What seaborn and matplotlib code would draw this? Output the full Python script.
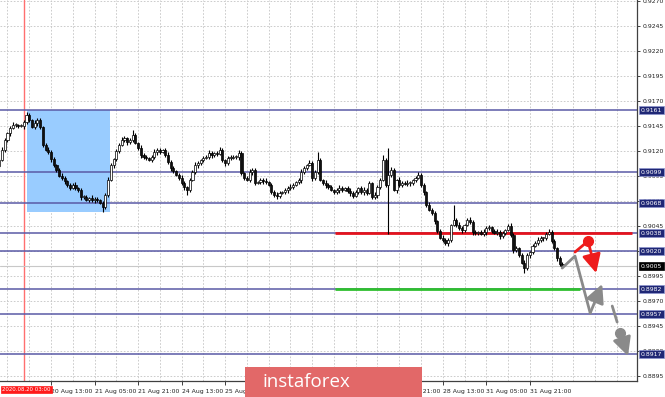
import numpy as np
import pandas as pd
import matplotlib
matplotlib.use("Agg")
import matplotlib.pyplot as plt
import matplotlib.transforms as mtransforms
from matplotlib.patches import Rectangle
import seaborn as sns

# ---------------- data ----------------
bar_index_start = -19          # bar 0 = 20 Aug 13:00 (H1 bars)
first_open = 0.9105
closes = [
    0.9111, 0.9121, 0.9131, 0.9138, 0.9143, 0.9146, 0.9146, 0.9145, 0.9145, 0.9149, 0.9156, 0.9151, 0.9144, 0.9148, 0.9151, 0.9144,
    0.9126, 0.9121, 0.9119, 0.9112, 0.9106, 0.9101, 0.9095, 0.9093, 0.9090, 0.9086, 0.9083, 0.9086, 0.9083, 0.9081, 0.9074, 0.9074,
    0.9071, 0.9073, 0.9071, 0.9072, 0.9071, 0.9068, 0.9064, 0.9076, 0.9091, 0.9106, 0.9112, 0.9120, 0.9126, 0.9131, 0.9133, 0.9129,
    0.9131, 0.9136, 0.9128, 0.9123, 0.9116, 0.9114, 0.9113, 0.9111, 0.9114, 0.9119, 0.9121, 0.9119, 0.9121, 0.9116, 0.9109, 0.9103,
    0.9100, 0.9096, 0.9093, 0.9088, 0.9084, 0.9081, 0.9091, 0.9099, 0.9106, 0.9108, 0.9111, 0.9113, 0.9114, 0.9118, 0.9116, 0.9118,
    0.9117, 0.9121, 0.9111, 0.9108, 0.9113, 0.9113, 0.9114, 0.9114, 0.9118, 0.9098, 0.9093, 0.9091, 0.9099, 0.9101, 0.9088, 0.9089,
    0.9091, 0.9090, 0.9089, 0.9086, 0.9079, 0.9076, 0.9075, 0.9078, 0.9079, 0.9081, 0.9083, 0.9084, 0.9086, 0.9089, 0.9091, 0.9099,
    0.9103, 0.9106, 0.9108, 0.9093, 0.9099, 0.9111, 0.9091, 0.9088, 0.9086, 0.9084, 0.9081, 0.9079, 0.9081, 0.9083, 0.9081, 0.9083,
    0.9080, 0.9078, 0.9075, 0.9079, 0.9083, 0.9079, 0.9081, 0.9078, 0.9088, 0.9074, 0.9076, 0.9084, 0.9091, 0.9111, 0.9086, 0.9096,
    0.9101, 0.9081, 0.9091, 0.9086, 0.9088, 0.9087, 0.9088, 0.9088, 0.9091, 0.9093, 0.9096, 0.9086, 0.9079, 0.9066, 0.9061, 0.9058,
    0.9050, 0.9040, 0.9033, 0.9031, 0.9028, 0.9031, 0.9046, 0.9051, 0.9046, 0.9043, 0.9041, 0.9046, 0.9051, 0.9049, 0.9039, 0.9038,
    0.9039, 0.9037, 0.9039, 0.9043, 0.9044, 0.9040, 0.9038, 0.9039, 0.9035, 0.9038, 0.9041, 0.9045, 0.9036, 0.9021, 0.9023, 0.9016,
    0.9008, 0.9003, 0.9016, 0.9019, 0.9025, 0.9028, 0.9031, 0.9033, 0.9033, 0.9037, 0.9039, 0.9030, 0.9023, 0.9013, 0.9007, 0.9005,
]
upper_wick_pips = [
    2, 3, 2, 1, 2, 3, 2, 1, 2, 2, 3, 2, 1, 3, 2, 2,
    1, 2, 3, 2, 2, 1, 2, 3, 2, 1, 2, 2, 3, 1, 2, 2,
    2, 1, 3, 2, 2, 1, 2, 2, 3, 2, 1, 2, 2, 3, 2, 1,
    2, 5, 2, 1, 3, 2, 2, 1, 2, 3, 2, 2, 1, 2, 3, 2,
    2, 1, 2, 3, 2, 1, 2, 2, 3, 2, 1, 2, 2, 3, 2, 1,
    2, 3, 2, 1, 2, 3, 2, 2, 3, 2, 1, 2, 3, 2, 2, 1,
    2, 2, 3, 1, 2, 2, 3, 2, 1, 2, 2, 3, 2, 1, 2, 3,
    2, 1, 3, 2, 2, 8, 2, 1, 3, 2, 2, 1, 2, 3, 2, 1,
    2, 3, 2, 2, 1, 2, 3, 2, 2, 1, 3, 2, 2, 5, 2, 27,
    3, 2, 1, 3, 2, 2, 3, 2, 1, 2, 3, 2, 2, 1, 3, 2,
    2, 1, 2, 3, 2, 2, 1, 15, 2, 3, 2, 1, 2, 3, 2, 2,
    1, 2, 3, 2, 2, 1, 2, 3, 2, 2, 1, 2, 3, 2, 2, 1,
    2, 3, 2, 1, 2, 2, 3, 2, 1, 2, 3, 2, 2, 1, 2, 2,
]
lower_wick_pips = [
    2, 1, 2, 2, 3, 1, 2, 2, 1, 3, 2, 2, 1, 2, 3, 2,
    2, 1, 2, 3, 2, 2, 1, 2, 3, 2, 2, 1, 2, 2, 3, 2,
    1, 2, 2, 3, 2, 1, 5, 2, 2, 1, 3, 2, 2, 1, 2, 3,
    2, 2, 1, 2, 3, 2, 2, 1, 2, 2, 3, 2, 1, 2, 2, 3,
    2, 1, 2, 2, 3, 5, 2, 1, 2, 3, 2, 2, 1, 2, 3, 2,
    2, 1, 2, 3, 2, 2, 1, 2, 3, 2, 2, 1, 2, 3, 2, 1,
    2, 3, 2, 1, 2, 2, 3, 2, 1, 2, 3, 2, 2, 1, 2, 3,
    2, 2, 1, 3, 2, 2, 1, 2, 3, 2, 1, 2, 2, 3, 2, 1,
    2, 3, 2, 1, 2, 2, 3, 2, 1, 2, 2, 3, 2, 1, 2, 49,
    2, 1, 3, 2, 2, 1, 2, 3, 2, 2, 1, 2, 3, 2, 1, 2,
    3, 2, 1, 2, 2, 3, 2, 1, 2, 2, 3, 2, 1, 2, 3, 2,
    2, 1, 2, 3, 2, 2, 1, 2, 3, 2, 2, 1, 2, 3, 2, 2,
    1, 5, 2, 3, 2, 1, 2, 2, 3, 2, 1, 2, 2, 3, 2, 2,
]

level_prices = [0.9161, 0.9099, 0.9068, 0.9038, 0.9020, 0.8982, 0.8957, 0.8917]
level_labels = ["0.9161", "0.9099", "0.9068", "0.9038", "0.9020", "0.8982", "0.8957", "0.8917"]
bid_price = 0.9005
bid_label = "0.9005"

resistance_price = 0.9038
resistance_bars = [104.4, 213.6]
support_price = 0.8982
support_bars = [104.4, 194.5]

zone_bars = [-8.8, 21.7]
zone_prices = [0.9059, 0.9161]

marker_bar = -10
marker_label = "2020.08.20 03:00"

xtick_bars = [0, 16, 32, 48, 64, 80, 96, 112, 128, 144, 160, 176]
xtick_labels = ["20 Aug 13:00", "21 Aug 05:00", "21 Aug 21:00", "24 Aug 13:00",
                "25 Aug 05:00", "25 Aug 21:00", "26 Aug 13:00", "27 Aug 05:00",
                "27 Aug 21:00", "28 Aug 13:00", "31 Aug 05:00", "31 Aug 21:00"]
xgrid_bars = [-16, -8, 0, 8, 16, 24, 32, 40, 48, 56, 64, 72, 80, 88, 96, 104, 112,
              120, 128, 136, 144, 152, 160, 168, 176, 184, 192, 200, 208]
ytick_values = [0.9270, 0.9245, 0.9220, 0.9195, 0.9170, 0.9145, 0.9120, 0.9095,
                0.9070, 0.9045, 0.9020, 0.8995, 0.8970, 0.8945, 0.8920, 0.8895]

red_path_bars = [192.6, 197.4, 200.4]
red_path_prices = [0.9019, 0.9030, 0.8998]
gray_path_bars = [187.9, 192.6, 198.2, 202.6]
gray_path_prices = [0.9003, 0.9015, 0.8958, 0.8987]
gray_dash_bars = [206.3, 208.1]
gray_dash_prices = [0.8965, 0.8949]
gray_dot_bars = [209.2, 212.1]
gray_dot_prices = [0.8938, 0.8915]

# ---------------- build candles ----------------
n = len(closes)
bars = np.arange(bar_index_start, bar_index_start + n)
opens = [first_open] + closes[:-1]
df = pd.DataFrame({"bar": bars, "open": opens, "close": closes,
                   "uw": upper_wick_pips, "lw": lower_wick_pips})
df["top"] = df[["open", "close"]].max(axis=1)
df["bot"] = df[["open", "close"]].min(axis=1)
df["high"] = df["top"] + df["uw"] * 0.0001
df["low"] = df["bot"] - df["lw"] * 0.0001
df["bull"] = df["close"] >= df["open"]

# ---------------- figure ----------------
sns.set_theme(style="white")
plt.rcParams["font.family"] = ["DejaVu Sans"]
fig = plt.figure(figsize=(6.65, 3.97), dpi=100)
ax = fig.add_axes([0.0, 16 / 397, 637 / 665, 381 / 397])
ax.set_facecolor("white")

ax.set_xlim(-18.75, 215.4)
ax.set_ylim(0.88900, 0.92712)

# grid
for gb in xgrid_bars:
    ax.axvline(gb, color="#c4c4c4", lw=0.6, ls=(0, (2, 2)), zorder=0)
for yv in ytick_values:
    ax.axhline(yv, color="#c4c4c4", lw=0.6, ls=(0, (2, 2)), zorder=0)

# blue zone
ax.add_patch(Rectangle((zone_bars[0], zone_prices[0]), zone_bars[1] - zone_bars[0],
                       zone_prices[1] - zone_prices[0], facecolor="#99ccff",
                       edgecolor="none", zorder=1))

# marker vertical line
ax.axvline(marker_bar, color="#ff6f6f", lw=1.0, zorder=2)

# horizontal levels
for lp in level_prices:
    ax.axhline(lp, color="#5a5aa6", lw=1.1, zorder=2)
ax.axhline(bid_price, color="#c8c8c8", lw=0.8, zorder=2)

ax.plot(resistance_bars, [resistance_price] * 2, color="#e3131d", lw=2.0, zorder=3,
        solid_capstyle="butt")
ax.plot(support_bars, [support_price] * 2, color="#2fbf2f", lw=2.0, zorder=3,
        solid_capstyle="butt")

# candles
ax.vlines(df["bar"], df["low"], df["high"], color="black", lw=0.8, zorder=4)
heights = (df["top"] - df["bot"]).clip(lower=0.00007)
ax.bar(df["bar"], heights, bottom=df["bot"], width=0.78,
       color=np.where(df["bull"], "white", "#111111"), edgecolor="black",
       linewidth=0.5, zorder=5)

# forecast arrows
path = pd.DataFrame({"bar": gray_path_bars[:3], "price": gray_path_prices[:3]})
sns.lineplot(data=path, x="bar", y="price", sort=False, color="#8a8a8a", lw=2.0,
             ax=ax, zorder=6)
arrow_style = "-|>,head_length=0.8,head_width=0.4"
ax.annotate("", xy=(gray_path_bars[3], gray_path_prices[3]),
            xytext=(gray_path_bars[2], gray_path_prices[2]),
            arrowprops=dict(arrowstyle=arrow_style, color="#8a8a8a", lw=2.0,
                            shrinkA=0, shrinkB=0, mutation_scale=14), zorder=6)
ax.plot(gray_dash_bars, gray_dash_prices, color="#8a8a8a", lw=2.0, zorder=6)
ax.plot([gray_dot_bars[0]], [gray_dot_prices[0]], "o", color="#8a8a8a", ms=7, zorder=7)
ax.annotate("", xy=(gray_dot_bars[1], gray_dot_prices[1]),
            xytext=(gray_dot_bars[0], gray_dot_prices[0]),
            arrowprops=dict(arrowstyle=arrow_style, color="#8a8a8a", lw=2.0,
                            shrinkA=0, shrinkB=0, mutation_scale=14), zorder=6)

ax.plot(red_path_bars[:2], red_path_prices[:2], color="#ee1c1c", lw=2.0, zorder=7)
ax.plot([red_path_bars[1]], [red_path_prices[1]], "o", color="#ee1c1c", ms=7, zorder=8)
ax.annotate("", xy=(red_path_bars[2], red_path_prices[2]),
            xytext=(red_path_bars[1], red_path_prices[1]),
            arrowprops=dict(arrowstyle=arrow_style, color="#ee1c1c", lw=2.0,
                            shrinkA=0, shrinkB=0, mutation_scale=14), zorder=7)

# axes styling
for s in ["top", "left"]:
    ax.spines[s].set_visible(False)
for s in ["right", "bottom"]:
    ax.spines[s].set_visible(True)
    ax.spines[s].set_color("#404040")
    ax.spines[s].set_linewidth(0.9)

ax.yaxis.tick_right()
ax.set_yticks(ytick_values)
ax.set_yticklabels([f"{v:.4f}" for v in ytick_values])
ax.tick_params(axis="y", which="both", right=True, left=False, length=2.5, width=0.6,
               pad=1.5, labelsize=4.4, colors="#202020")
ax.set_xticks(xtick_bars)
ax.set_xticklabels(xtick_labels)
ax.tick_params(axis="x", bottom=True, length=3, width=0.6, pad=2.5, labelsize=4.4,
               colors="#202020")
for lbl in ax.get_xticklabels():
    lbl.set_horizontalalignment("left")
ax.set_xlabel("")
ax.set_ylabel("")

# right-side level labels
trans = mtransforms.blended_transform_factory(ax.transAxes, ax.transData)
for lp, lt in zip(level_prices, level_labels):
    ax.text(1.006, lp, lt, transform=trans, fontsize=4.4, color="white",
            va="center", ha="left", clip_on=False, zorder=20,
            bbox=dict(boxstyle="square,pad=0.25", fc="#1f2775", ec="#8f95cf", lw=0.5))
ax.text(1.006, bid_price, bid_label, transform=trans, fontsize=4.4, color="white",
        va="center", ha="left", clip_on=False, zorder=20,
        bbox=dict(boxstyle="square,pad=0.25", fc="black", ec="black", lw=0.5))

# marker date label (drawn from the left edge like the terminal does)
ax.text(0.003, -0.022, marker_label, transform=ax.transAxes, fontsize=3.85,
        color="white", va="center", ha="left", clip_on=False, zorder=20,
        bbox=dict(boxstyle="square,pad=0.22", fc="#ff1a1a", ec="#ff1a1a", lw=0.5))

# watermark
fig.patches.append(Rectangle((245 / 665, 0.0), 177 / 665, 30 / 397,
                             transform=fig.transFigure, facecolor="#e26868",
                             edgecolor="none", zorder=30))
fig.text(262 / 665, 15 / 397, "instaforex", fontsize=13.5, color="white",
         family=["Open Sans", "DejaVu Sans"], ha="left", va="center", zorder=31)

fig.savefig("out.png", dpi=100)
